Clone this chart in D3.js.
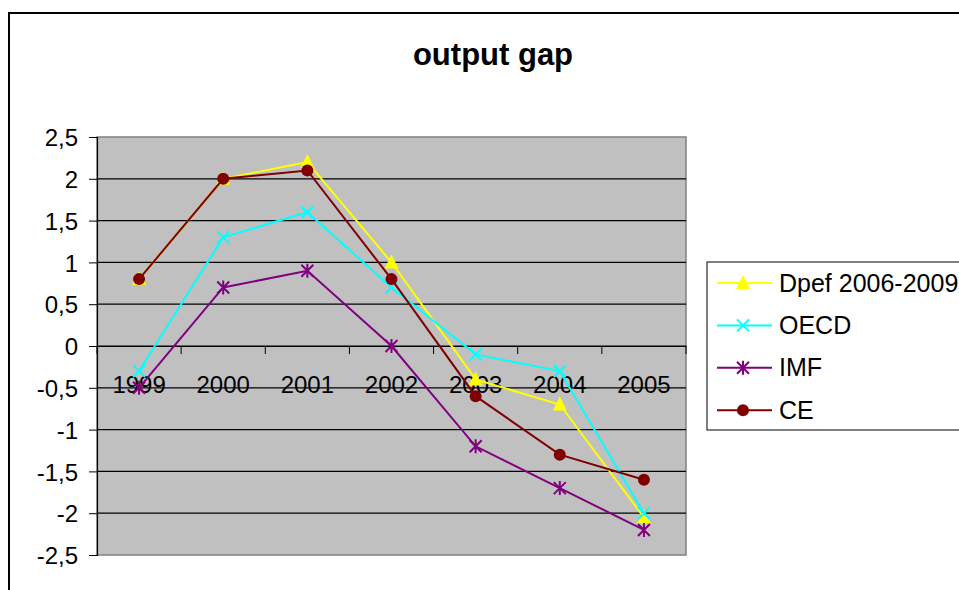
<!DOCTYPE html>
<meta charset="utf-8">
<script src="https://cdn.jsdelivr.net/npm/d3@7"></script>
<style>
body { margin: 0; background: #fff; font-family: Arial, "Liberation Sans", sans-serif; }
text { font-family: Arial, "Liberation Sans", sans-serif; }
</style>
<body>
<script>
// data
var years = ["1999", "2000", "2001", "2002", "2003", "2004", "2005"];
var dpef = [0.8, 2.0, 2.2, 1.0, -0.4, -0.7, -2.05];
var oecd = [-0.3, 1.3, 1.6, 0.7, -0.1, -0.3, -2.0];
var imf = [-0.5, 0.7, 0.9, 0.0, -1.2, -1.7, -2.2];
var ce = [0.8, 2.0, 2.1, 0.8, -0.6, -1.3, -1.6];
var yTicks = [2.5, 2, 1.5, 1, 0.5, 0, -0.5, -1, -1.5, -2, -2.5];

var series = [
  {name: "Dpef 2006-2009", values: dpef, color: "#ffff00", marker: "triangle"},
  {name: "OECD", values: oecd, color: "#00ffff", marker: "x"},
  {name: "IMF", values: imf, color: "#800080", marker: "star"},
  {name: "CE", values: ce, color: "#800000", marker: "circle"}
];

var w = 959, h = 590,
    plot = {left: 97, top: 137, right: 686, bottom: 555};

var svg = d3.select("body").append("svg")
    .attr("width", w).attr("height", h);

// chart frame
svg.append("rect")
    .attr("x", 9).attr("y", 13)
    .attr("width", 980).attr("height", 600)
    .attr("fill", "#fff").attr("stroke", "#000").attr("stroke-width", 2);

svg.append("text")
    .attr("x", 493).attr("y", 65)
    .attr("text-anchor", "middle")
    .style("font-size", "31px").style("font-weight", "bold")
    .text("output gap");

var x = d3.scaleBand().domain(years).range([plot.left, plot.right]);
var y = d3.scaleLinear().domain([-2.5, 2.5]).range([plot.bottom, plot.top]);

svg.append("rect")
    .attr("x", plot.left).attr("y", plot.top)
    .attr("width", plot.right - plot.left).attr("height", plot.bottom - plot.top)
    .attr("fill", "#c0c0c0").attr("stroke", "#808080").attr("stroke-width", 1.5);

// gridlines
svg.append("g").selectAll("line")
  .data(yTicks.filter(function(d) { return d !== 2.5 && d !== -2.5; }))
  .enter().append("line")
    .attr("x1", plot.left).attr("x2", plot.right)
    .attr("y1", function(d) { return y(d); }).attr("y2", function(d) { return y(d); })
    .attr("stroke", "#000").attr("stroke-width", 1.2);

// y axis
var yAxis = svg.append("g")
    .attr("transform", "translate(" + plot.left + ",0)")
    .call(d3.axisLeft(y).tickValues(yTicks).tickSize(8).tickPadding(11)
      .tickFormat(function(d) { return String(d).replace(".", ","); }));
yAxis.select(".domain").attr("stroke", "#000").attr("stroke-width", 1.2);
yAxis.selectAll(".tick line").attr("stroke", "#000");
yAxis.selectAll("text").style("font-size", "24px").attr("fill", "#000").attr("dy", "0.36em");

// x axis at zero
var xAxis = svg.append("g")
    .attr("transform", "translate(0," + y(0) + ")")
    .call(d3.axisBottom(x).tickSize(0));
xAxis.select(".domain").attr("stroke", "#000").attr("stroke-width", 1.2);
xAxis.selectAll("text").style("font-size", "24px").attr("fill", "#000")
    .attr("y", 47).attr("dy", null);
xAxis.selectAll(".cat-tick")
  .data(d3.range(years.length + 1))
  .enter().append("line")
    .attr("class", "cat-tick")
    .attr("x1", function(i) { return plot.left + i * x.step(); })
    .attr("x2", function(i) { return plot.left + i * x.step(); })
    .attr("y1", 0).attr("y2", 8)
    .attr("stroke", "#000").attr("stroke-width", 1);

function drawMarker(g, type, color) {
  if (type === "triangle") {
    g.append("path").attr("d", "M0,-8L7,6L-7,6Z").attr("fill", color);
  } else if (type === "circle") {
    g.append("circle").attr("r", 6).attr("fill", color);
  } else if (type === "x") {
    g.append("path").attr("d", "M-6,-6L6,6M-6,6L6,-6")
      .attr("stroke", color).attr("stroke-width", 2).attr("fill", "none");
  } else {
    g.append("path").attr("d", "M-6,-6L6,6M-6,6L6,-6M0,-7L0,7")
      .attr("stroke", color).attr("stroke-width", 2).attr("fill", "none");
  }
}

var line = d3.line()
    .x(function(d, i) { return x(years[i]) + x.bandwidth() / 2; })
    .y(function(d) { return y(d); });

series.forEach(function(s) {
  svg.append("path")
      .datum(s.values)
      .attr("d", line)
      .attr("fill", "none")
      .attr("stroke", s.color)
      .attr("stroke-width", 2);
  s.values.forEach(function(v, i) {
    var g = svg.append("g")
        .attr("transform", "translate(" + (x(years[i]) + x.bandwidth() / 2) + "," + y(v) + ")");
    drawMarker(g, s.marker, s.color);
  });
});

// legend
var legend = svg.append("g");
legend.append("rect")
    .attr("x", 707).attr("y", 262).attr("width", 270).attr("height", 168)
    .attr("fill", "#fff").attr("stroke", "#000").attr("stroke-width", 1);
series.forEach(function(s, i) {
  var ly = 283 + i * 42.4;
  legend.append("line")
      .attr("x1", 717).attr("x2", 772).attr("y1", ly).attr("y2", ly)
      .attr("stroke", s.color).attr("stroke-width", 2);
  var g = legend.append("g").attr("transform", "translate(743," + ly + ")");
  drawMarker(g, s.marker, s.color);
  legend.append("text")
      .attr("x", 779).attr("y", ly + 8.5)
      .style("font-size", "25px")
      .text(s.name);
});
</script>
</body>
